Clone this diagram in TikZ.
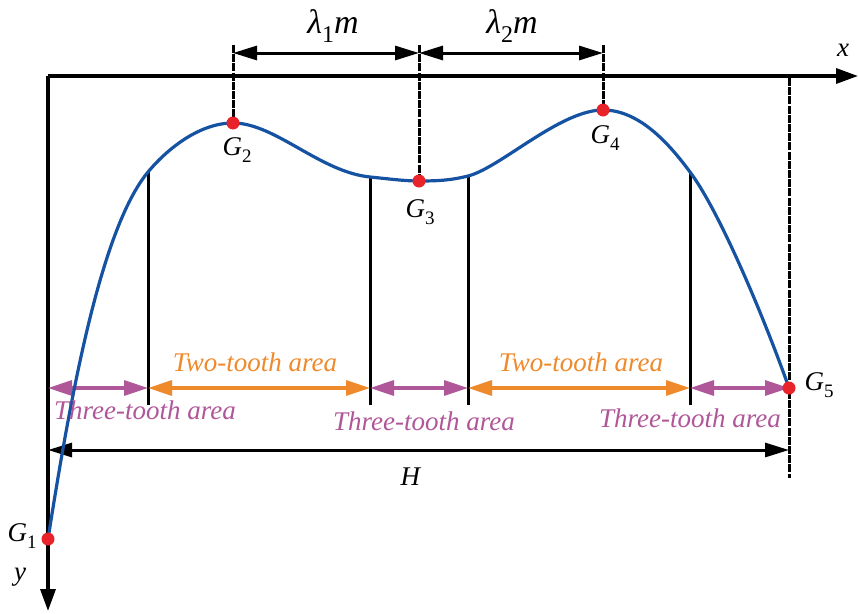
\documentclass[tikz,border=0pt]{standalone}
\usepackage{fontspec}
\setmainfont{Liberation Serif}
\usetikzlibrary{arrows.meta}
\definecolor{cblue}{RGB}{22,82,162}
\definecolor{cred}{RGB}{232,35,42}
\definecolor{cpurple}{RGB}{176,87,153}
\definecolor{corange}{RGB}{239,138,44}
\newcommand\Gl[1]{\textit{G}\raisebox{-0.28em}{\fontsize{19}{19}\selectfont #1}}
\newcommand\lam[1]{\textit{λ}\raisebox{-0.25em}{\fontsize{24}{24}\selectfont #1}\textit{m}}
\begin{document}
\begin{tikzpicture}[x=1pt,y=-1pt,
  axis/.style={line width=3.4pt,-{Triangle[length=22pt,width=15pt]}},
  vline/.style={line width=3pt},
  dline/.style={line width=3pt,dash pattern=on 8pt off 1.2pt},
  dimarrow/.style={line width=3pt,{Triangle[length=24pt,width=14pt]}-{Triangle[length=24pt,width=14pt]}},
  parrow/.style={line width=3.2pt,cpurple,{Triangle[length=24pt,width=15pt]}-{Triangle[length=24pt,width=15pt]}},
  oarrow/.style={line width=3.2pt,corange,{Triangle[length=24pt,width=15pt]}-{Triangle[length=24pt,width=15pt]}},
  harrow/.style={line width=3pt,{Triangle[length=24pt,width=14pt]}-{Triangle[length=24pt,width=14pt]}},
  dot/.style={circle,fill=cred,inner sep=0pt,minimum size=13pt},
  lbl/.style={font=\fontsize{27}{27}\selectfont,inner sep=0pt},
  plbl/.style={lbl,text=cpurple,font=\fontsize{27}{27}\selectfont\itshape},
  olbl/.style={lbl,text=corange,font=\fontsize{27}{27}\selectfont\itshape},
  biglbl/.style={font=\fontsize{34}{34}\selectfont,inner sep=0pt}]
\useasboundingbox (0,0) rectangle (858,613);
% coordinates
\coordinate (O) at (48,76);
\coordinate (xend) at (858,76);
\coordinate (yend) at (48,611);
\coordinate (G1) at (48,539);
\coordinate (G2) at (233,123);
\coordinate (G3) at (419,181);
\coordinate (G4) at (603,110);
\coordinate (G5) at (789,388);
\coordinate (t2) at (233,45);
\coordinate (t3) at (419,45);
\coordinate (t4) at (603,45);
\coordinate (d2) at (233,53);
\coordinate (d3) at (419,53);
\coordinate (d4) at (603,53);
\coordinate (v1t) at (148,172);
\coordinate (v1b) at (148,405);
\coordinate (v2t) at (370,177);
\coordinate (v2b) at (370,405);
\coordinate (v3t) at (468,176);
\coordinate (v3b) at (468,405);
\coordinate (v4t) at (690,172);
\coordinate (v4b) at (690,405);
\coordinate (v5t) at (789,78);
\coordinate (v5b) at (789,478);
\coordinate (a0) at (48,388);
\coordinate (a1) at (148,388);
\coordinate (a2) at (370,388);
\coordinate (a3) at (468,388);
\coordinate (a4) at (690,388);
\coordinate (a5) at (789,388);
\coordinate (h0) at (48,450);
\coordinate (h1) at (789,450);
% axes
\draw[axis] (O) -- (xend);
\draw[axis] (O) -- (yend);
% vertical lines
\draw[vline] (v1t) -- (v1b);
\draw[vline] (v2t) -- (v2b);
\draw[vline] (v3t) -- (v3b);
\draw[vline] (v4t) -- (v4b);
\draw[dline] (v5t) -- (v5b);
\draw[dline] (t2) -- (G2);
\draw[dline] (t3) -- (G3);
\draw[dline] (t4) -- (G4);
% dimension arrows
\draw[dimarrow] (d2) -- (d3);
\draw[dimarrow] (d3) -- (d4);
\node[biglbl] (l1) at (333,26) {\lam{1}};
\node[biglbl] (l2) at (512,26) {\lam{2}};
% area arrows
\draw[parrow] (a0) -- (a1);
\draw[oarrow] (a1) -- (a2);
\draw[parrow] (a2) -- (a3);
\draw[oarrow] (a3) -- (a4);
\draw[parrow] (a4) -- (a5);
\draw[harrow] (h0) -- (h1);
% curve
\draw[cblue,line width=3.2pt,line join=round]
  (G1) .. controls (70,400) and (100,230) .. (v1t)
       .. controls (168,148) and (200,123) .. (G2)
       .. controls (275,123) and (320,172) .. (v2t)
       .. controls (390,179) and (405,181) .. (G3)
       .. controls (440,181) and (452,180) .. (v3t)
       .. controls (500,168) and (560,110) .. (G4)
       .. controls (640,110) and (670,145) .. (v4t)
       .. controls (720,212) and (765,320) .. (G5);
% dots
\node[dot] (g1) at (G1) {};
\node[dot] (g2) at (G2) {};
\node[dot] (g3) at (G3) {};
\node[dot] (g4) at (G4) {};
\node[dot] (g5) at (G5) {};
% labels
\node[lbl] (G1l) at (22,536) {\Gl{1}};
\node[lbl] (G2l) at (237,150) {\Gl{2}};
\node[lbl] (G3l) at (420,212) {\Gl{3}};
\node[lbl] (G4l) at (605,138) {\Gl{4}};
\node[lbl] (G5l) at (819,385) {\Gl{5}};
\node[lbl] (xl) at (843,50) {\textit{x}};
\node[lbl] (yl) at (20,577) {\textit{y}};
\node[lbl] (Hl) at (411,477) {\textit{H}};
\node[olbl] (o1) at (255,362) {Two-tooth area};
\node[olbl] (o2) at (581,362) {Two-tooth area};
\node[plbl] (p1) at (145,410) {Three-tooth area};
\node[plbl] (p2) at (424,421) {Three-tooth area};
\node[plbl] (p3) at (690,418) {Three-tooth area};
\end{tikzpicture}
\end{document}
